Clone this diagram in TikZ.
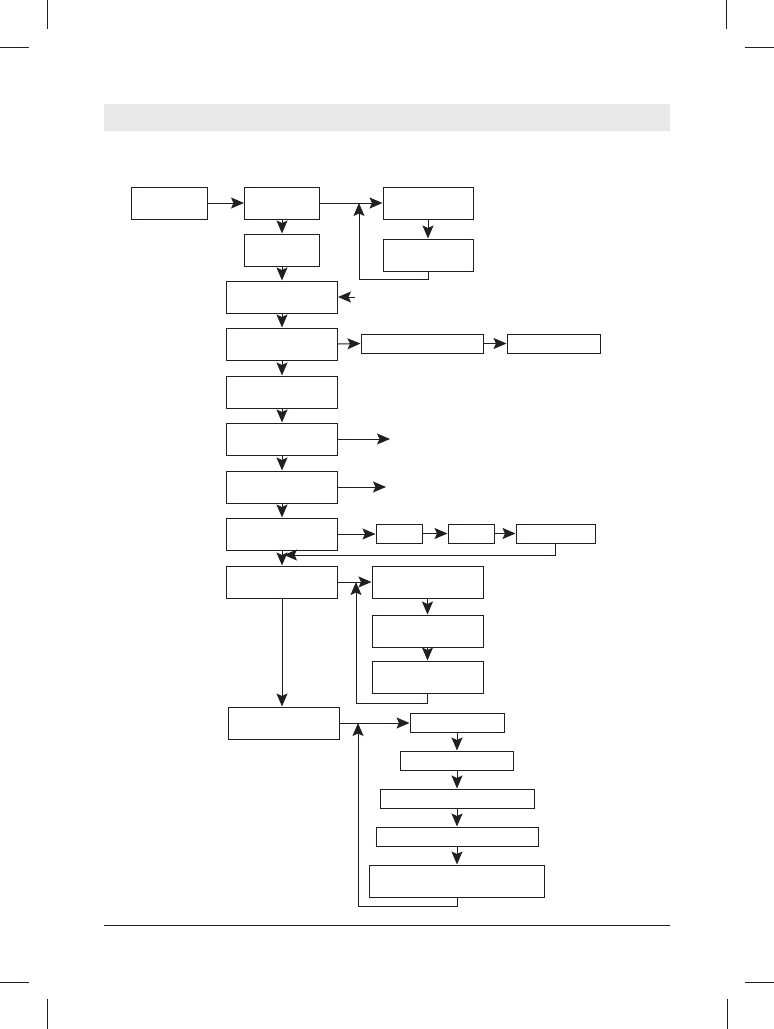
\documentclass[tikz,border=0pt]{standalone}
\usetikzlibrary{arrows.meta}
\definecolor{bargray}{HTML}{E8E8E8}
\definecolor{ink}{HTML}{231F20}

\begin{document}
\begin{tikzpicture}[
  x=1pt,y=-1pt,
  blk/.style={draw=ink,line width=1pt,inner sep=0pt,minimum width=#1},
  tall/.style={minimum height=32pt},
  flat/.style={minimum height=19pt},
  arr/.style={draw=ink,line width=1pt,-{Stealth[length=13pt,width=11pt,inset=2.5pt]}},
  crop/.style={draw=ink,line width=0.8pt}
]
  \useasboundingbox (0,0) rectangle (774,1029);
  \draw[crop] (47,0) -- (47,29) (0,47) -- (29,47);
  \draw[crop] (726,0) -- (726,29) (745,47) -- (774,47);
  \draw[crop] (47,999) -- (47,1029) (0,982) -- (29,982);
  \draw[crop] (727,999) -- (727,1029) (745,982) -- (774,982);
  \fill[bargray] (104,104) rectangle (670,131);
  \draw[crop] (104,925) -- (670,925);

  \node[blk=76pt,tall]  (a) at (169,203) {};
  \node[blk=75pt,tall]  (b) at (282,203) {};
  \node[blk=75pt,tall]  (e) at (282,250) {};
  \node[blk=90pt,tall]  (c) at (428,203) {};
  \node[blk=90pt,tall]  (d) at (428,255) {};
  \node[blk=111pt,tall] (f) at (282,297) {};
  \node[blk=111pt,tall] (g) at (282,344) {};
  \node[blk=122pt,flat] (h) at (422,343.5) {};
  \node[blk=93pt,flat]  (i) at (553.5,343.5) {};
  \node[blk=111pt,tall] (j) at (282,392) {};
  \node[blk=111pt,tall] (k) at (282,439) {};
  \node[blk=111pt,tall] (l) at (282,487) {};
  \node[blk=111pt,tall] (m) at (282,534) {};
  \node[blk=46pt,flat]  (n) at (399,533.5) {};
  \node[blk=46pt,flat]  (o) at (471,533.5) {};
  \node[blk=79pt,flat]  (p) at (555.5,533.5) {};
  \node[blk=111pt,tall] (q) at (282,582) {};
  \node[blk=111pt,tall] (r) at (427.5,582) {};
  \node[blk=111pt,tall] (s) at (427.5,631) {};
  \node[blk=111pt,tall] (t) at (427.5,677) {};
  \node[blk=111pt,tall] (u) at (283.5,723) {};
  \node[blk=94pt,flat]  (v) at (457,722.5) {};
  \node[blk=113pt,flat] (w) at (457,760.5) {};
  \node[blk=154pt,flat] (x) at (457,798.5) {};
  \node[blk=162pt,flat] (y) at (457,836.5) {};
  \node[blk=175pt,tall] (z) at (457,881) {};

  \coordinate (bcjoin) at (359,203);
  \coordinate (fin)    at (355,297);
  \coordinate (kout)   at (390,439);
  \coordinate (lout)   at (386,487);
  \coordinate (mqjoin) at (284,555);
  \coordinate (qrjoin) at (356,582);
  \coordinate (uvjoin) at (358,723);

  \draw[arr] (a) -- (b);
  \draw[arr] (b) -- (c);
  \draw[arr] (c) -- (d);
  \draw[arr] (d.south) -- ++(0,8) -| (bcjoin);
  \draw[arr] (b) -- (e);
  \draw[arr] (e) -- (f);
  \draw[arr] (fin) -- (f.east);
  \draw[arr] (f) -- (g);
  \draw[arr] (g.east) -- (h.west);
  \draw[arr] (h) -- (i);
  \draw[arr] (g) -- (j);
  \draw[arr] (j) -- (k);
  \draw[arr] (k.east) -- (kout);
  \draw[arr] (k) -- (l);
  \draw[arr] (l.east) -- (lout);
  \draw[arr] (l) -- (m);
  \draw[arr] (m.east) -- (m.east -| n.west);
  \draw[arr] (n) -- (o);
  \draw[arr] (o) -- (p);
  \draw[arr] (p.south) |- (mqjoin);
  \draw[arr] (m) -- (q);
  \draw[arr] (q) -- (r);
  \draw[arr] (r) -- (s);
  \draw[arr] (s) -- (t);
  \draw[arr] (t.south) -- ++(0,10) -| (qrjoin);
  \draw[arr] (q.south) -- (q.south |- u.north);
  \draw[arr] (u.east) -- (u.east -| v.west);
  \draw[arr] (v) -- (w);
  \draw[arr] (w) -- (x);
  \draw[arr] (x) -- (y);
  \draw[arr] (y) -- (z);
  \draw[arr] (z.south) -- ++(0,9) -| (uvjoin);
\end{tikzpicture}
\end{document}
